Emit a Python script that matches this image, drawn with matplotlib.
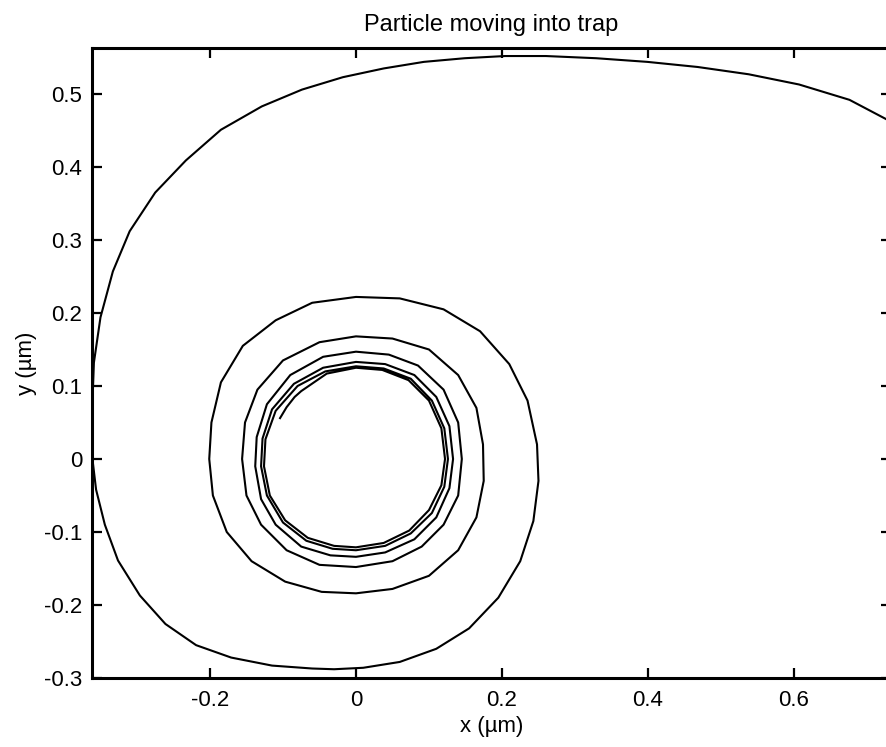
import matplotlib
matplotlib.use("Agg")
import matplotlib.pyplot as plt

plt.rcParams['font.family'] = ['Liberation Sans', 'DejaVu Sans']
plt.rcParams['axes.unicode_minus'] = False

# particle path (um), outer turn first
x_um = [0.733, 0.676, 0.607, 0.538, 0.468, 0.399, 0.329, 0.260, 0.204, 0.149,
        0.093, 0.038, -0.018, -0.074, -0.129, -0.185, -0.233, -0.275, -0.310, -0.333,
        -0.350, -0.359, -0.3616, -0.361, -0.356, -0.344, -0.326, -0.296, -0.261, -0.219,
        -0.171, -0.115, -0.060, -0.030, 0.010, 0.060, 0.110, 0.155, 0.195, 0.225,
        0.243, 0.250, 0.248,
        # turn 2
        0.235, 0.210, 0.170, 0.120, 0.060, 0.000, -0.060, -0.110, -0.155, -0.185,
        -0.198, -0.201, -0.196, -0.177, -0.143, -0.097, -0.047, 0.000, 0.050, 0.100,
        0.140, 0.165, 0.175, 0.174,
        # turn 3
        0.165, 0.140, 0.100, 0.050, 0.000, -0.050, -0.100, -0.135, -0.152, -0.156,
        -0.150, -0.130, -0.095, -0.050, 0.000, 0.050, 0.090, 0.120, 0.140, 0.145,
        # turn 4
        0.140, 0.120, 0.085, 0.045, 0.000, -0.045, -0.090, -0.122, -0.136, -0.138,
        -0.130, -0.110, -0.075, -0.035, 0.000, 0.040, 0.080, 0.110, 0.128, 0.133,
        # turn 5
        0.128, 0.110, 0.080, 0.040, 0.000, -0.045, -0.085, -0.115, -0.128, -0.130,
        -0.122, -0.100, -0.068, -0.032, 0.000, 0.040, 0.075, 0.104, 0.121, 0.126,
        # turn 6
        0.121, 0.104, 0.075, 0.038, 0.000, -0.042, -0.080, -0.110, -0.124, -0.126,
        -0.118, -0.097, -0.066, -0.030, 0.000, 0.038, 0.073, 0.100, 0.117, 0.122,
        # last bit
        0.117, 0.100, 0.072, 0.036, 0.000, -0.040, -0.075, -0.084, -0.095, -0.104]

y_um = [0.462, 0.492, 0.513, 0.527, 0.537, 0.544, 0.549, 0.552, 0.552, 0.549,
        0.544, 0.535, 0.523, 0.506, 0.483, 0.451, 0.409, 0.365, 0.312, 0.257,
        0.194, 0.132, 0.062, 0.000, -0.042, -0.090, -0.139, -0.187, -0.226, -0.255,
        -0.272, -0.283, -0.287, -0.288, -0.286, -0.278, -0.260, -0.232, -0.190, -0.140,
        -0.085, -0.030, 0.020,
        # turn 2
        0.080, 0.130, 0.175, 0.205, 0.220, 0.222, 0.214, 0.190, 0.155, 0.105,
        0.050, 0.000, -0.050, -0.100, -0.140, -0.168, -0.182, -0.184, -0.178, -0.160,
        -0.125, -0.080, -0.030, 0.020,
        # turn 3
        0.070, 0.115, 0.150, 0.165, 0.168, 0.160, 0.135, 0.095, 0.050, 0.000,
        -0.050, -0.090, -0.125, -0.145, -0.148, -0.140, -0.120, -0.090, -0.050, 0.000,
        # turn 4
        0.050, 0.095, 0.128, 0.143, 0.147, 0.140, 0.115, 0.075, 0.030, -0.010,
        -0.055, -0.090, -0.120, -0.132, -0.134, -0.128, -0.110, -0.080, -0.040, 0.000,
        # turn 5
        0.045, 0.085, 0.115, 0.130, 0.133, 0.125, 0.103, 0.068, 0.028, -0.010,
        -0.050, -0.087, -0.112, -0.123, -0.125, -0.119, -0.102, -0.074, -0.038, 0.000,
        # turn 6
        0.042, 0.080, 0.110, 0.124, 0.127, 0.120, 0.100, 0.066, 0.027, -0.010,
        -0.050, -0.084, -0.108, -0.119, -0.121, -0.115, -0.098, -0.070, -0.036, 0.000,
        # last bit
        0.042, 0.080, 0.108, 0.122, 0.125, 0.117, 0.093, 0.085, 0.071, 0.056]

x_ticks = [-0.2, 0, 0.2, 0.4, 0.6]
x_ticklabels = ['-0.2', '0', '0.2', '0.4', '0.6']
y_ticks = [-0.3, -0.2, -0.1, 0, 0.1, 0.2, 0.3, 0.4, 0.5]
y_ticklabels = ['-0.3', '-0.2', '-0.1', '0', '0.1', '0.2', '0.3', '0.4', '0.5']

fig = plt.figure(figsize=(8.86, 7.47), dpi=100)
# right edge of the axes runs just past the picture, like the original crop
ax = fig.add_axes([92 / 886, 69 / 747, 799 / 886, 630 / 747])

ax.plot(x_um, y_um, color='black', linewidth=1.5)

ax.set_xlim(-0.3616, 0.7329)
ax.set_ylim(-0.3, 0.563)
ax.set_xticks(x_ticks)
ax.set_xticklabels(x_ticklabels)
ax.set_yticks(y_ticks)
ax.set_yticklabels(y_ticklabels)

ax.tick_params(direction='in', length=7, width=1.6, top=True, right=True,
               labelsize=16, pad=7)
ax.tick_params(axis='x', pad=9)
for sp in ax.spines.values():
    sp.set_linewidth(2.2)

ax.set_xlabel('x (µm)', fontsize=16, labelpad=3)
ax.set_ylabel('y (µm)', fontsize=16, labelpad=5)
ax.set_title('Particle moving into trap', fontsize=17, pad=12)

plt.savefig('out.png', dpi=100)
